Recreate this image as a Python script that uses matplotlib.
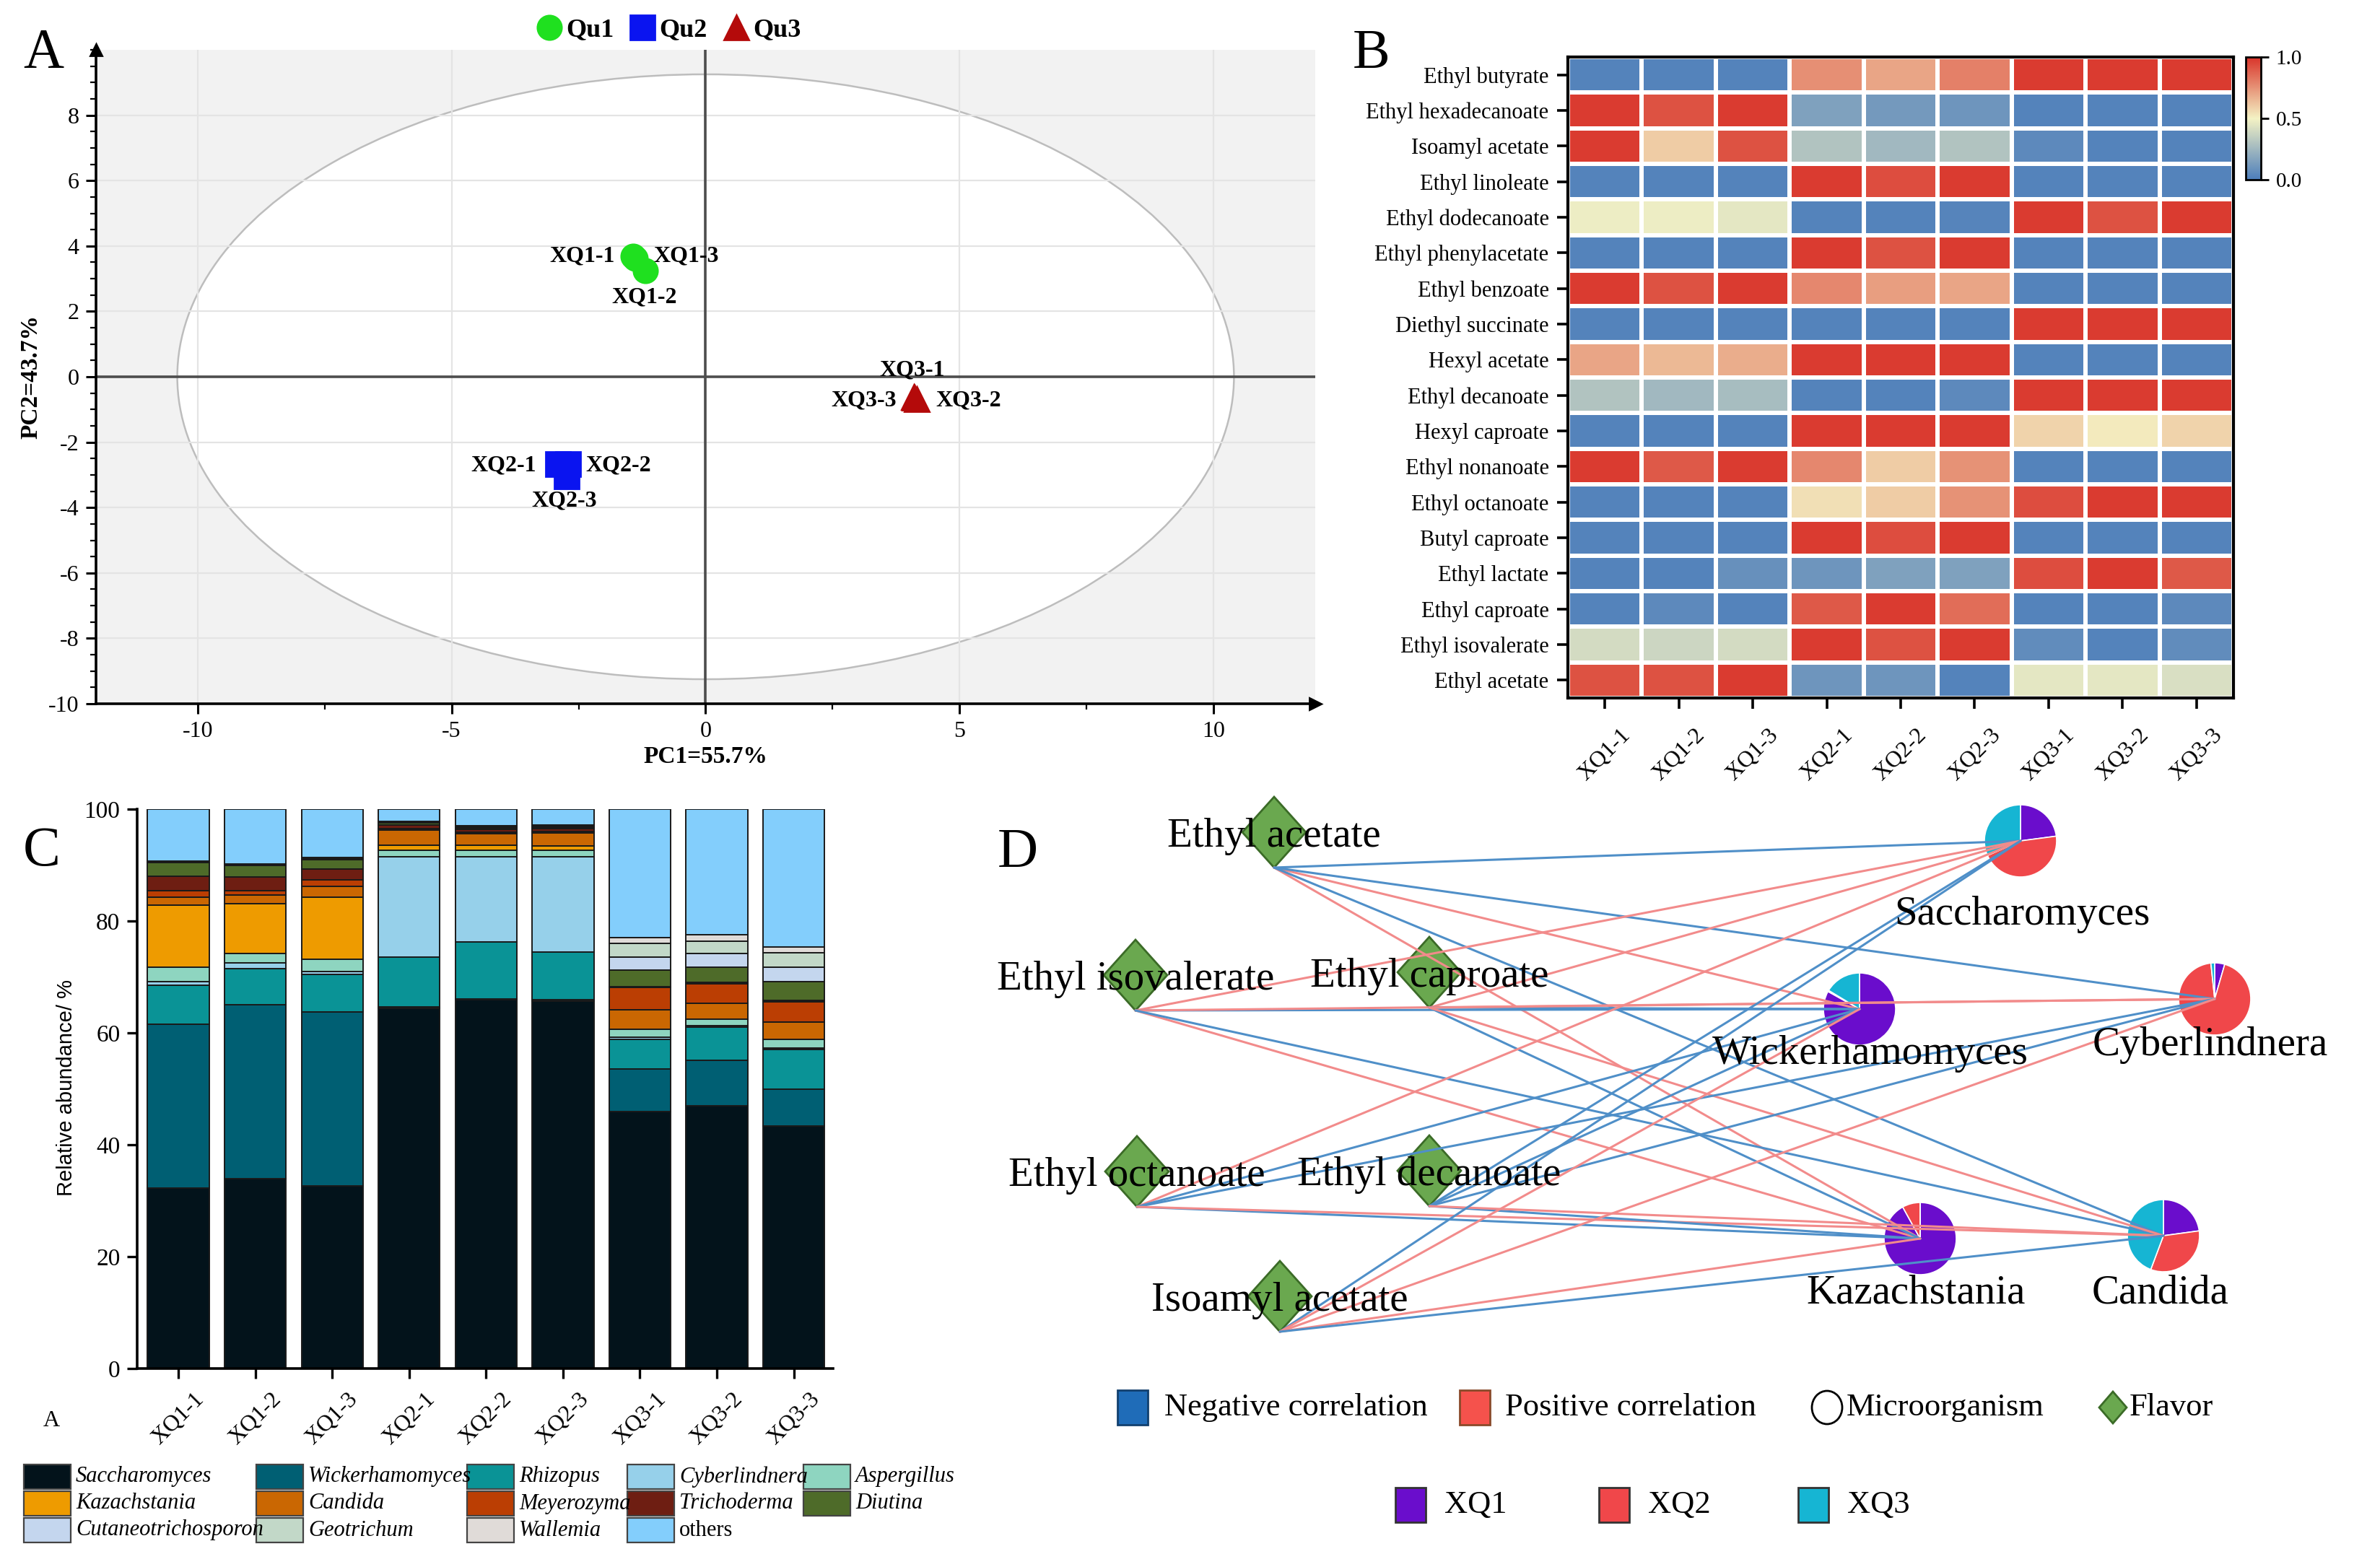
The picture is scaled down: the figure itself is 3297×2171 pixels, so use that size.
import numpy as np
import matplotlib
matplotlib.use('Agg')
import matplotlib.pyplot as plt
from matplotlib.patches import Ellipse, Rectangle, Polygon
from matplotlib.colors import LinearSegmentedColormap
from matplotlib.lines import Line2D
from matplotlib.ticker import MultipleLocator

plt.rcParams['font.family'] = ['Liberation Serif', 'DejaVu Serif']
plt.rcParams['axes.unicode_minus'] = False

W, H, DPI = 3298, 2171, 200

# ===================== Panel A data (PCA) =====================
pca_samples = ['XQ1-1', 'XQ1-2', 'XQ1-3', 'XQ2-1', 'XQ2-2', 'XQ2-3', 'XQ3-1', 'XQ3-2', 'XQ3-3']
pca_group_idx = [0, 0, 0, 1, 1, 1, 2, 2, 2]
pc1 = [-1.43, -1.19, -1.38, -2.91, -2.71, -2.74, 4.10, 4.15, 4.12]
pc2 = [3.69, 3.24, 3.62, -2.67, -2.67, -3.05, -0.62, -0.68, -0.65]
pca_groups = ['Qu1', 'Qu2', 'Qu3']
pc1_title = 'PC1=55.7%'
pc2_title = 'PC2=43.7%'
ellipse_w = 20.8
ellipse_h = 18.5
# label anchor positions for sample names
pca_label_x = [-1.78, -1.21, -1.02, -3.34, -2.36, -2.78, 4.07, 4.53, 3.76]
pca_label_y = [3.69, 2.44, 3.69, -2.72, -2.72, -3.79, 0.20, -0.73, -0.73]
pca_label_ha = ['right', 'center', 'left', 'right', 'left', 'center', 'center', 'left', 'right']

# ===================== Panel B data (heatmap) =====================
esters = ['Ethyl butyrate', 'Ethyl hexadecanoate', 'Isoamyl acetate', 'Ethyl linoleate',
          'Ethyl dodecanoate', 'Ethyl phenylacetate', 'Ethyl benzoate', 'Diethyl succinate',
          'Hexyl acetate', 'Ethyl decanoate', 'Hexyl caproate', 'Ethyl nonanoate',
          'Ethyl octanoate', 'Butyl caproate', 'Ethyl lactate', 'Ethyl caproate',
          'Ethyl isovalerate', 'Ethyl acetate']
heat_samples = ['XQ1-1', 'XQ1-2', 'XQ1-3', 'XQ2-1', 'XQ2-2', 'XQ2-3', 'XQ3-1', 'XQ3-2', 'XQ3-3']
heat_values = [
    [0.02, 0.02, 0.02, 0.76, 0.70, 0.80, 0.98, 0.98, 0.98],
    [0.98, 0.92, 0.98, 0.15, 0.12, 0.10, 0.02, 0.02, 0.02],
    [0.98, 0.60, 0.92, 0.30, 0.25, 0.30, 0.05, 0.02, 0.02],
    [0.02, 0.02, 0.02, 0.98, 0.93, 0.98, 0.02, 0.02, 0.02],
    [0.48, 0.48, 0.45, 0.02, 0.02, 0.03, 0.98, 0.92, 0.98],
    [0.02, 0.02, 0.02, 0.98, 0.92, 0.98, 0.02, 0.02, 0.02],
    [0.98, 0.92, 0.98, 0.78, 0.72, 0.70, 0.02, 0.02, 0.02],
    [0.02, 0.02, 0.02, 0.02, 0.02, 0.02, 0.98, 0.98, 0.98],
    [0.70, 0.65, 0.68, 0.98, 0.98, 0.98, 0.02, 0.02, 0.02],
    [0.30, 0.25, 0.27, 0.02, 0.02, 0.05, 0.98, 0.98, 0.98],
    [0.02, 0.02, 0.02, 0.98, 0.98, 0.98, 0.58, 0.52, 0.58],
    [0.98, 0.90, 0.98, 0.78, 0.60, 0.75, 0.02, 0.02, 0.02],
    [0.02, 0.02, 0.02, 0.55, 0.60, 0.75, 0.93, 0.98, 0.98],
    [0.02, 0.02, 0.02, 0.98, 0.93, 0.98, 0.02, 0.02, 0.02],
    [0.02, 0.02, 0.08, 0.10, 0.15, 0.15, 0.93, 0.98, 0.90],
    [0.02, 0.05, 0.02, 0.90, 0.98, 0.85, 0.02, 0.02, 0.05],
    [0.40, 0.38, 0.40, 0.98, 0.92, 0.98, 0.06, 0.02, 0.06],
    [0.92, 0.92, 0.98, 0.10, 0.10, 0.02, 0.45, 0.45, 0.42],
]
cbar_ticks = [0.0, 0.5, 1.0]
cbar_ticklabels = ['0.0', '0.5', '1.0']

# ===================== Panel C data (relative abundance, %) =====================
bar_samples = ['XQ1-1', 'XQ1-2', 'XQ1-3', 'XQ2-1', 'XQ2-2', 'XQ2-3', 'XQ3-1', 'XQ3-2', 'XQ3-3']
genera = ['Saccharomyces', 'Wickerhamomyces', 'Rhizopus', 'Cyberlindnera', 'Aspergillus',
          'Kazachstania', 'Candida', 'Meyerozyma', 'Trichoderma', 'Diutina',
          'Cutaneotrichosporon', 'Geotrichum', 'Wallemia', 'others']
saccharomyces = [32.2, 33.9, 32.6, 64.4, 65.9, 65.7, 45.9, 47.0, 43.3]
wickerhamomyces = [29.3, 31.1, 31.1, 0.2, 0.2, 0.2, 7.6, 8.1, 6.7]
rhizopus = [7.0, 6.5, 6.7, 9.0, 10.2, 8.5, 5.4, 5.9, 7.0]
cyberlindnera = [0.7, 1.0, 0.6, 17.9, 15.2, 17.1, 0.3, 0.3, 0.3]
aspergillus = [2.6, 1.7, 2.2, 1.1, 1.1, 1.2, 1.5, 1.1, 1.6]
kazachstania = [11.0, 8.9, 11.1, 1.0, 0.9, 0.7, 0.0, 0.0, 0.0]
candida = [1.5, 1.5, 1.9, 2.6, 2.1, 2.3, 3.4, 2.9, 3.1]
meyerozyma = [1.1, 0.8, 1.1, 0.3, 0.3, 0.3, 4.0, 3.5, 3.6]
trichoderma = [2.6, 2.5, 2.0, 0.6, 0.5, 0.5, 0.2, 0.2, 0.2]
diutina = [2.4, 2.0, 1.7, 0.4, 0.3, 0.3, 2.9, 2.8, 3.4]
cutaneotrichosporon = [0.1, 0.1, 0.1, 0.1, 0.1, 0.1, 2.4, 2.4, 2.5]
geotrichum = [0.1, 0.1, 0.1, 0.1, 0.1, 0.1, 2.4, 2.2, 2.6]
wallemia = [0.1, 0.1, 0.1, 0.1, 0.1, 0.1, 1.0, 1.1, 1.0]
others = [9.3, 9.8, 8.7, 2.2, 3.0, 2.9, 23.0, 22.5, 24.7]

# ===================== Panel D data (network) =====================
flavors = ['Ethyl acetate', 'Ethyl isovalerate', 'Ethyl caproate', 'Ethyl octanoate',
           'Ethyl decanoate', 'Isoamyl acetate']
microbes = ['Saccharomyces', 'Wickerhamomyces', 'Cyberlindnera', 'Kazachstania', 'Candida']
pie_xq1 = [32.9, 30.5, 0.8, 10.3, 1.6]
pie_xq2 = [65.3, 0.2, 16.7, 0.9, 2.3]
pie_xq3 = [45.4, 6.0, 0.3, 0.0, 3.1]
# +1 positive, -1 negative (rows: flavors, cols: microbes)
corr_sign = [
    [-1, 1, -1, 1, -1],
    [1, -1, 1, 1, -1],
    [1, -1, 1, -1, 1],
    [1, -1, -1, -1, 1],
    [-1, -1, -1, -1, 1],
    [-1, 1, 1, 1, -1],
]
# network layout (layout units, y up)
flavor_lx = [365, 173, 580, 175, 580, 373]
flavor_ly = [1018, 820, 824, 548, 549, 375]
microbe_lx = [1399, 1176, 1668, 1260, 1597]
microbe_ly = [1006, 773, 787, 455, 459]
microbe_label_dx = [2, 15, -6, -6, -4]
microbe_label_dy = [-102, -62, -64, -76, -79]

# ===================== Helpers =====================
fig = plt.figure(figsize=(W / DPI, H / DPI), dpi=DPI)


def rect(x0, y0, x1, y1):
    return [x0 / W, 1 - y1 / H, (x1 - x0) / W, (y1 - y0) / H]


def ftext(x, y, s, **kw):
    return fig.text(x / W, 1 - y / H, s, **kw)


def frect(x0, y0, x1, y1, **kw):
    fig.add_artist(Rectangle((x0 / W, 1 - y1 / H), (x1 - x0) / W, (y1 - y0) / H,
                             transform=fig.transFigure, **kw))


# ===================== Panel A =====================
axA = fig.add_axes(rect(133, 69, 1822, 975))
axA.set_xlim(-12, 12)
axA.set_ylim(-10, 10)
axA.set_facecolor('#f2f2f2')
axA.add_patch(Ellipse((0, 0), ellipse_w, ellipse_h, facecolor='white',
                      edgecolor='#bdbdbd', lw=0.9, zorder=0.3))
axA.set_axisbelow(True)
axA.grid(True, which='major', color='#e4e4e4', lw=0.8)
axA.axhline(0, color='#4d4d4d', lw=1.3, zorder=1)
axA.axvline(0, color='#4d4d4d', lw=1.3, zorder=1)
for s in ['top', 'right']:
    axA.spines[s].set_visible(False)
for s in ['left', 'bottom']:
    axA.spines[s].set_linewidth(1.3)
axA.plot(1, 0, '>', color='k', ms=6, transform=axA.transAxes, clip_on=False)
axA.plot(0, 1, '^', color='k', ms=6, transform=axA.transAxes, clip_on=False)
axA.set_xticks([-10, -5, 0, 5, 10])
axA.set_yticks(np.arange(-10, 9, 2))
axA.xaxis.set_minor_locator(MultipleLocator(2.5))
axA.yaxis.set_minor_locator(MultipleLocator(0.5))
axA.tick_params(which='major', length=5, width=1.1, labelsize=11.5, direction='out')
axA.tick_params(which='minor', length=3, width=0.8, direction='out')
axA.set_xlabel(pc1_title, fontsize=12, fontweight='bold', labelpad=2)
axA.set_ylabel(pc2_title, fontsize=12, fontweight='bold', labelpad=3)

pca_markers = ['o', 's', '^']
pca_colors = ['#1fe01f', '#0a14f0', '#b40a0a']
for i in range(len(pca_samples)):
    g = pca_group_idx[i]
    axA.plot(pc1[i], pc2[i], marker=pca_markers[g], color=pca_colors[g], ms=12,
             ls='none', zorder=3)
    axA.text(pca_label_x[i], pca_label_y[i], pca_samples[i], ha=pca_label_ha[i],
             va='center', fontsize=11.5, fontweight='bold', zorder=4)

handles = [Line2D([], [], marker=pca_markers[k], color=pca_colors[k], ls='none', ms=12)
           for k in range(3)]
fig.legend(handles, pca_groups, loc='center', bbox_to_anchor=(926 / W, 1 - 42 / H),
           ncol=3, frameon=False, prop={'weight': 'bold', 'size': 13},
           handletextpad=0.15, columnspacing=0.6, handlelength=1.0)
ftext(60, 74, 'A', fontsize=28, ha='center', va='center')

# ===================== Panel B =====================
axB = fig.add_axes(rect(2172, 79, 3094, 967))
cmap = LinearSegmentedColormap.from_list('heat', ['#4d7ebb', '#f4f2c4', '#d9342a'])
mesh = axB.pcolormesh(np.array(heat_values), cmap=cmap, vmin=0, vmax=1,
                      edgecolors='white', linewidth=1.6)
axB.set_xlim(0, len(heat_samples))
axB.set_ylim(len(esters), 0)
axB.set_xticks(np.arange(len(heat_samples)) + 0.5)
axB.set_xticklabels(heat_samples, rotation=45, ha='center', va='top', fontsize=11.5)
axB.set_yticks(np.arange(len(esters)) + 0.5)
axB.set_yticklabels(esters, fontsize=11)
axB.tick_params(length=5.5, width=1.3, pad=4)
axB.tick_params(axis='x', pad=8)
for s in axB.spines.values():
    s.set_linewidth(1.5)
cax = fig.add_axes(rect(3111, 79, 3132, 249))
cb = fig.colorbar(mesh, cax=cax, ticks=cbar_ticks)
cb.ax.set_yticklabels(cbar_ticklabels)
cb.outline.set_linewidth(1.0)
cax.tick_params(labelsize=10.5, length=4, width=1.0)
ftext(1900, 75, 'B', fontsize=28, ha='center', va='center')

# ===================== Panel C =====================
axC = fig.add_axes(rect(190, 1121, 1154, 1896))
series = [saccharomyces, wickerhamomyces, rhizopus, cyberlindnera, aspergillus,
          kazachstania, candida, meyerozyma, trichoderma, diutina,
          cutaneotrichosporon, geotrichum, wallemia, others]
genus_colors = ['#03131b', '#005f73', '#0a9396', '#96d0ea', '#8ed5c0',
                '#ee9b00', '#ca6702', '#bb3e03', '#6e1e12', '#4e6b29',
                '#c4d6ee', '#c2d8c8', '#e0dbd8', '#83cefc']
xpos = np.arange(len(bar_samples))
bottom = np.zeros(len(bar_samples))
for vals, col in zip(series, genus_colors):
    v = np.array(vals)
    axC.bar(xpos, v, 0.8, bottom=bottom, color=col, edgecolor='#1a1a1a', linewidth=0.7)
    bottom += v
axC.set_xlim(-0.535, 8.51)
axC.set_ylim(0, 100)
for s in ['top', 'right']:
    axC.spines[s].set_visible(False)
for s in ['left', 'bottom']:
    axC.spines[s].set_linewidth(1.3)
axC.set_yticks(np.arange(0, 101, 20))
axC.set_xticks(xpos)
axC.set_xticklabels(bar_samples, rotation=45, ha='center', va='top', fontsize=11.5)
axC.tick_params(length=5, width=1.2, labelsize=12)
axC.tick_params(axis='x', labelsize=11.5, pad=5)
ftext(92, 1507, 'Relative abundance/ %', rotation=90, ha='center', va='center',
      fontsize=10.5, family=['Liberation Sans', 'DejaVu Sans'])
ftext(58, 1180, 'C', fontsize=28, ha='center', va='center')
ftext(71, 1968, 'A', fontsize=11.5, ha='center', va='center')

# legend for panel C
leg_cols_x = [33, 355, 647, 869, 1113]
leg_rows_y = [2046, 2083, 2120]
for k, (name, col) in enumerate(zip(genera, genus_colors)):
    r, c = divmod(k, 5)
    x0 = leg_cols_x[c]
    yc = leg_rows_y[r]
    frect(x0, yc - 17, x0 + 65, yc + 17, facecolor=col, edgecolor='#444444', lw=0.8)
    ftext(x0 + 72, yc, name, fontsize=11, style='italic' if name != 'others' else 'normal',
          ha='left', va='center')

# ===================== Panel D =====================
axD = fig.add_axes(rect(1400, 1100, 3298, 2171))
pie_colors = ['#6a0dcc', '#f0474a', '#16b5d3']
pie_r = 50
for j in range(len(microbes)):
    vals = [pie_xq1[j], pie_xq2[j], pie_xq3[j]]
    axD.pie(vals, colors=pie_colors, center=(microbe_lx[j], microbe_ly[j]), radius=pie_r,
            startangle=90, counterclock=False, frame=True,
            wedgeprops=dict(edgecolor='white', linewidth=0.6, zorder=1))
    axD.text(microbe_lx[j] + microbe_label_dx[j], microbe_ly[j] + microbe_label_dy[j],
             microbes[j], fontsize=20.5, ha='center', va='center', zorder=5)

neg_col = '#4f8fc8'
pos_col = '#f28b8b'
dhw, dhh = 44, 49
for i in range(len(flavors)):
    for j in range(len(microbes)):
        c = pos_col if corr_sign[i][j] > 0 else neg_col
        axD.plot([flavor_lx[i], microbe_lx[j]], [flavor_ly[i] - dhh, microbe_ly[j]],
                 color=c, lw=1.1, zorder=3, solid_capstyle='round')
for i in range(len(flavors)):
    fx, fy = flavor_lx[i], flavor_ly[i]
    axD.add_patch(Polygon([[fx, fy + dhh], [fx + dhw, fy], [fx, fy - dhh], [fx - dhw, fy]],
                          closed=True, facecolor='#6aa84f', edgecolor='#3b6b27', lw=1.0,
                          zorder=2))
    axD.text(fx, fy - 20, flavors[i], fontsize=20.5, ha='center', va='baseline', zorder=5)
axD.set_xlim(0, 1898)
axD.set_ylim(0, 1071)
axD.set_aspect('auto')
axD.axis('off')
ftext(1410, 1182, 'D', fontsize=28, ha='center', va='center')

# legend for panel D
frect(1548, 1926, 1590, 1974, facecolor='#1f6cb8', edgecolor='#12406e', lw=1.0)
ftext(1613, 1950, 'Negative correlation', fontsize=16, ha='left', va='center')
frect(2022, 1926, 2064, 1974, facecolor='#f5524c', edgecolor='#8a4a2a', lw=1.0)
ftext(2085, 1950, 'Positive correlation', fontsize=16, ha='left', va='center')
fig.add_artist(Ellipse((2531 / W, 1 - 1950 / H), 42 / W, 46 / H, transform=fig.transFigure,
                       facecolor='white', edgecolor='black', lw=1.0))
ftext(2558, 1950, 'Microorganism', fontsize=16, ha='left', va='center')
dx, dy = 2927, 1950
fig.add_artist(Polygon([[dx / W, 1 - (dy - 22) / H], [(dx + 19) / W, 1 - dy / H],
                        [dx / W, 1 - (dy + 22) / H], [(dx - 19) / W, 1 - dy / H]],
                       closed=True, transform=fig.transFigure, facecolor='#6aa84f',
                       edgecolor='#3b6b27', lw=1.0))
ftext(2950, 1950, 'Flavor', fontsize=16, ha='left', va='center')
for k, (lab, col) in enumerate(zip(['XQ1', 'XQ2', 'XQ3'], pie_colors)):
    x0 = [1933, 2215, 2491][k]
    frect(x0, 2061, x0 + 42, 2109, facecolor=col, edgecolor='#333333', lw=1.0)
    ftext(x0 + 68, 2085, lab, fontsize=16, ha='left', va='center')

fig.savefig('out.png', dpi=DPI)
